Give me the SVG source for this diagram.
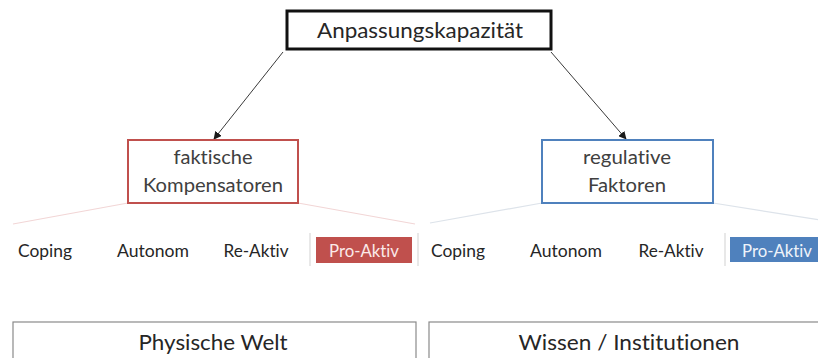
<svg xmlns="http://www.w3.org/2000/svg" width="818" height="358" viewBox="0 0 818 358">
  <defs>
    <marker id="arrow" viewBox="0 0 10 10" refX="9" refY="5" markerWidth="8" markerHeight="8" markerUnits="userSpaceOnUse" orient="auto">
      <path d="M0,0 L10,5 L0,10 z" fill="#1a1a1a"/>
    </marker>
    <style>
      text { font-family: "Lato", "Liberation Sans", sans-serif; fill: #404040; text-anchor: middle; font-variant-ligatures: none; font-feature-settings: "liga" 0, "dlig" 0; }
      .top { font-size: 22px; fill: #262626; }
      .mid { font-size: 19.5px; }
      .item { font-size: 17.5px; fill: #262626; }
      .hi { font-size: 17.5px; fill: #fbe9e9; }
      .hib { font-size: 17.5px; fill: #eef3fa; }
      .base { font-size: 21.5px; fill: #262626; }
      .conn { stroke: #3a3a3a; stroke-width: 1; fill: none; }
      .fanr { stroke: #f2d6d6; stroke-width: 1.2; fill: none; }
      .fanb { stroke: #dde3ea; stroke-width: 1.2; fill: none; }
      .sep { stroke: #e0e0e0; stroke-width: 1.5; }
      .basebox { fill: #ffffff; stroke: #8a8a8a; stroke-width: 1.2; }
    </style>
  </defs>

  <rect width="818" height="358" fill="#ffffff"/>

  <!-- connectors -->
  <g id="connectors">
    <line class="conn" x1="283" y1="52" x2="214" y2="139" marker-end="url(#arrow)"/>
    <line class="conn" x1="551" y1="52" x2="626" y2="139" marker-end="url(#arrow)"/>
    <line class="fanr" x1="128" y1="203" x2="13" y2="224"/>
    <line class="fanr" x1="298" y1="203" x2="415" y2="224"/>
    <line class="fanb" x1="542" y1="203" x2="430" y2="223"/>
    <line class="fanb" x1="713" y1="203" x2="820" y2="220"/>
  </g>

  <!-- root node -->
  <g id="anpassungskapazitaet">
    <rect x="287" y="11" width="264" height="38" fill="#ffffff" stroke="#111111" stroke-width="3"/>
    <text class="top" x="420" y="37.5" textLength="206" lengthAdjust="spacingAndGlyphs">Anpassungskapazität</text>
  </g>

  <!-- faktische Kompensatoren -->
  <g id="faktische">
    <rect x="128" y="140" width="170" height="63" fill="#ffffff" stroke="#c0504d" stroke-width="2"/>
    <text class="mid" x="213" y="164" textLength="79" lengthAdjust="spacingAndGlyphs">faktische</text>
    <text class="mid" x="213" y="192" textLength="140" lengthAdjust="spacingAndGlyphs">Kompensatoren</text>
  </g>

  <!-- regulative Faktoren -->
  <g id="regulative">
    <rect x="542" y="140" width="171" height="63" fill="#ffffff" stroke="#4f81bd" stroke-width="2"/>
    <text class="mid" x="627" y="164" textLength="88" lengthAdjust="spacingAndGlyphs">regulative</text>
    <text class="mid" x="627" y="192" textLength="78" lengthAdjust="spacingAndGlyphs">Faktoren</text>
  </g>

  <!-- categories under faktische Kompensatoren -->
  <g id="faktische-items">
    <text class="item" x="45" y="256.5" textLength="54" lengthAdjust="spacingAndGlyphs">Coping</text>
    <text class="item" x="153" y="256.5" textLength="72" lengthAdjust="spacingAndGlyphs">Autonom</text>
    <text class="item" x="256" y="256.5" textLength="65" lengthAdjust="spacingAndGlyphs">Re-Aktiv</text>
    <line class="sep" x1="310" y1="233" x2="310" y2="266"/>
    <rect x="316" y="237" width="96" height="26" fill="#c0504d"/>
    <text class="hi" x="364" y="256.5" textLength="70" lengthAdjust="spacingAndGlyphs">Pro-Aktiv</text>
    <line class="sep" x1="418" y1="233" x2="418" y2="266"/>
  </g>

  <!-- categories under regulative Faktoren -->
  <g id="regulative-items">
    <text class="item" x="458" y="256.5" textLength="54" lengthAdjust="spacingAndGlyphs">Coping</text>
    <text class="item" x="566" y="256.5" textLength="72" lengthAdjust="spacingAndGlyphs">Autonom</text>
    <text class="item" x="671" y="256.5" textLength="65" lengthAdjust="spacingAndGlyphs">Re-Aktiv</text>
    <line class="sep" x1="725" y1="233" x2="725" y2="266"/>
    <rect x="730" y="237" width="90" height="25" fill="#4f81bd"/>
    <text class="hib" x="777" y="256.5" textLength="70" lengthAdjust="spacingAndGlyphs">Pro-Aktiv</text>
  </g>

  <!-- base layers -->
  <g id="physische-welt">
    <rect class="basebox" x="13" y="322" width="403" height="50"/>
    <text class="base" x="213" y="350" textLength="149" lengthAdjust="spacingAndGlyphs">Physische Welt</text>
  </g>
  <g id="wissen-institutionen">
    <rect class="basebox" x="429" y="322" width="403" height="50"/>
    <text class="base" x="629" y="350" textLength="221" lengthAdjust="spacingAndGlyphs">Wissen / Institutionen</text>
  </g>
</svg>
